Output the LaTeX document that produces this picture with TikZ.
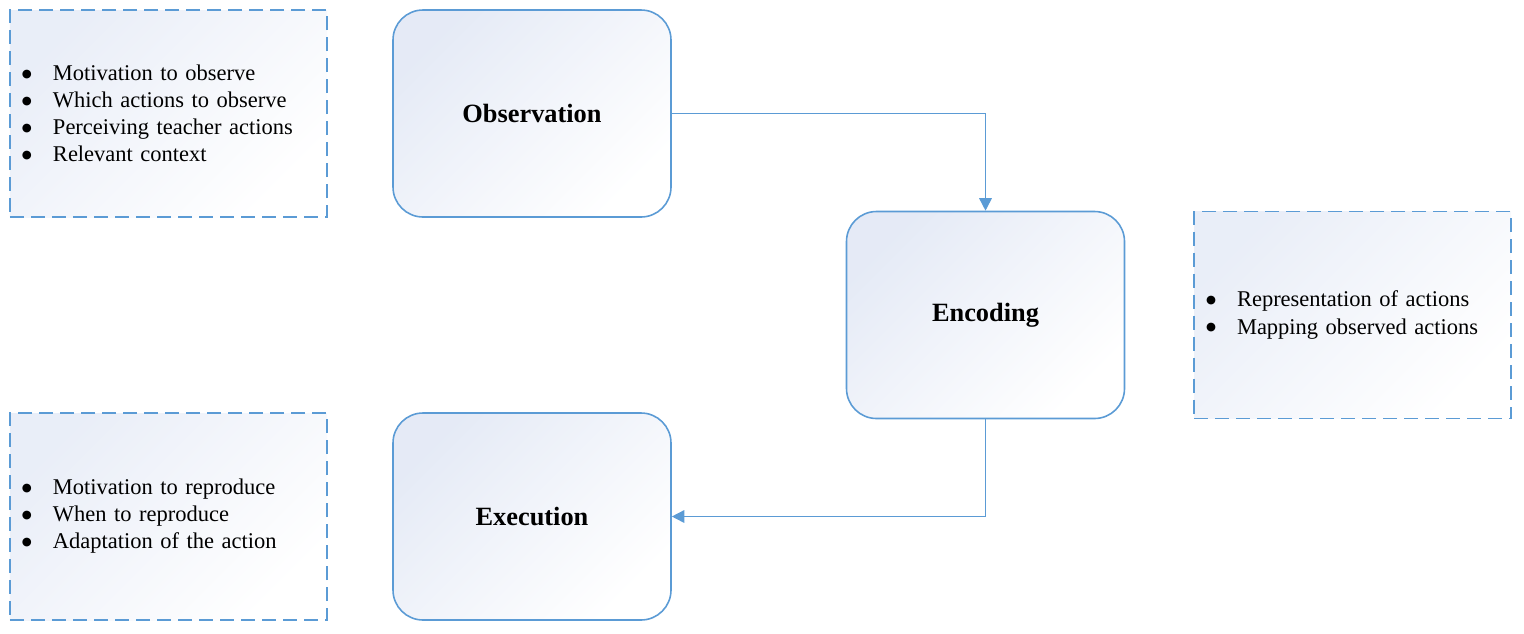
\documentclass[tikz,border=0pt]{standalone}
\usepackage{fontspec}
\setmainfont{Liberation Serif}
\newfontfamily\dotfont{DejaVu Sans}
\usetikzlibrary{arrows.meta}
\definecolor{lineblue}{RGB}{91,155,213}
\definecolor{shadeblue}{RGB}{226,232,245}
\newcommand{\bul}{\makebox[0.62cm][l]{\raisebox{2pt}{\dotfont\fontsize{6.5}{7}\selectfont ●}}}
\tikzstyle{stage} = [rectangle, rounded corners=0.6cm, minimum width=5.56cm, minimum height=4.14cm, draw=lineblue, line width=0.9pt, top color=shadeblue!90, middle color=shadeblue!15!white, bottom color=white, shading angle=45, font=\fontsize{15}{18}\selectfont\bfseries]
\tikzstyle{notes} = [rectangle, minimum width=6.34cm, minimum height=4.14cm, inner xsep=0.24cm, text width=5.86cm, align=left, draw=lineblue, line width=0.9pt, dash pattern=on 0.28cm off 0.14cm, top color=shadeblue!75, middle color=shadeblue!15!white, bottom color=white, shading angle=45, font=\fontsize{12.8}{15.4}\selectfont]
\tikzstyle{arrow} = [draw=lineblue, line width=0.9pt, -{Triangle[length=0.25cm, width=0.25cm]}]

\begin{document}
\begin{tikzpicture}[node distance=4.03cm]
	\useasboundingbox (0,0) rectangle (30.48,-12.66);

	\node (obs) [stage] at (10.64,-2.27) {Observation};
	\node (enc) [stage, below of=obs, xshift=9.07cm] {Encoding};
	\node (exe) [stage, below of=enc, xshift=-9.07cm] {Execution};

	\node (obsnotes) [notes, left of=obs, xshift=-3.24cm] {\bul Motivation to observe\\\bul Which actions to observe\\\bul Perceiving teacher actions\\\bul Relevant context};
	\node (encnotes) [notes, right of=enc, xshift=3.31cm] {\bul Representation of actions\\\bul Mapping observed actions};
	\node (exenotes) [notes, left of=exe, xshift=-3.24cm] {\bul Motivation to reproduce\\\bul When to reproduce\\\bul Adaptation of the action};

	\draw [arrow] (obs) -| (enc);
	\draw [arrow] (enc) |- (exe);
\end{tikzpicture}
\end{document}
